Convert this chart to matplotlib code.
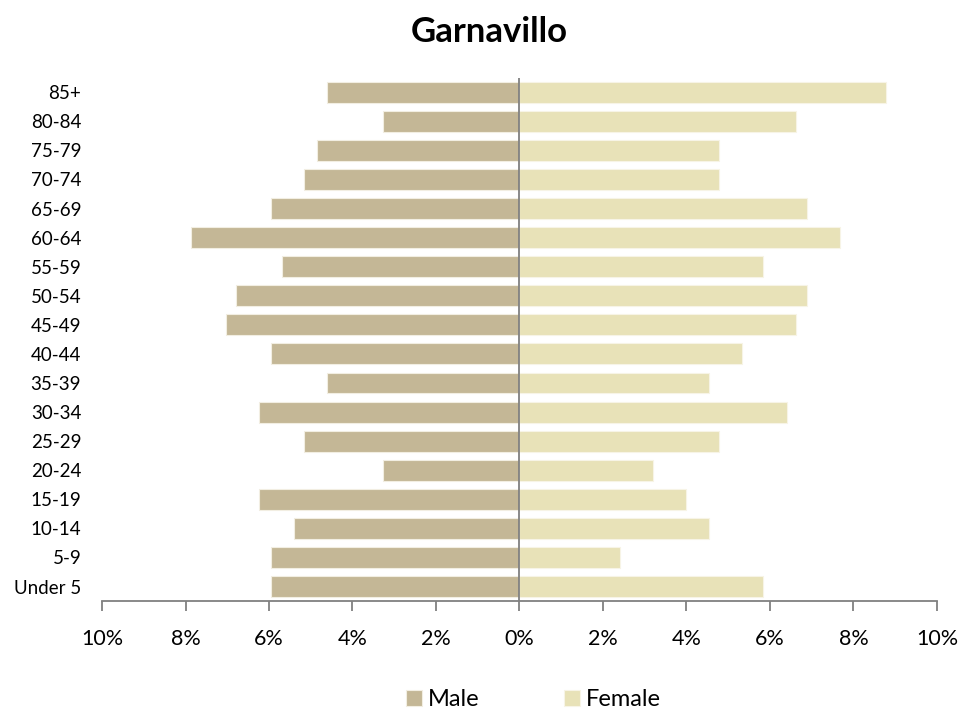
import matplotlib.pyplot as plt
from matplotlib.ticker import FuncFormatter

plt.rcParams['font.family'] = ['Lato', 'DejaVu Sans']

# age groups, bottom to top
ages = ['Under 5', '5-9', '10-14', '15-19', '20-24', '25-29', '30-34', '35-39', '40-44',
        '45-49', '50-54', '55-59', '60-64', '65-69', '70-74', '75-79', '80-84', '85+']
male = [5.96, 5.96, 5.41, 6.25, 3.26, 5.15, 6.25, 4.62, 5.96,
        7.04, 6.80, 5.68, 7.86, 5.96, 5.15, 4.86, 3.26, 4.62]
female = [5.84, 2.40, 4.53, 3.98, 3.19, 4.77, 6.40, 4.53, 5.32,
          6.63, 6.90, 5.84, 7.69, 6.90, 4.77, 4.77, 6.63, 8.77]

male_color = '#C4B796'
female_color = '#E8E2B8'

fig = plt.figure(figsize=(9.79, 7.13), dpi=100)
ax = fig.add_axes([0.1042, 0.157, 0.8528, 0.734])

y = range(len(ages))
ax.barh(y, [-m for m in male], height=0.72, color=male_color, edgecolor='#F2EEE2',
        linewidth=0.8, label='Male')
ax.barh(y, female, height=0.72, color=female_color, edgecolor='#F7F4E6',
        linewidth=0.8, label='Female')

ax.axvline(0, color='#808080', linewidth=1.3)

ax.set_xlim(-10, 10)
ax.set_ylim(-0.5, len(ages) - 0.5)
ax.set_xticks(range(-10, 11, 2))
ax.xaxis.set_major_formatter(FuncFormatter(lambda v, p: f'{abs(v):.0f}%'))
ax.set_yticks(list(y))
ax.set_yticklabels(ages, fontsize=13.5)

for s in ['top', 'right', 'left']:
    ax.spines[s].set_visible(False)
ax.spines['bottom'].set_color('#808080')
ax.spines['bottom'].set_linewidth(1.3)
ax.tick_params(axis='x', direction='out', length=7, width=1.3, color='#808080',
               labelsize=15.5, pad=13)
ax.tick_params(axis='y', length=0, pad=15)

fig.suptitle('Garnavillo', fontsize=25, fontweight='bold', y=0.978)

fig.legend(loc='lower center', bbox_to_anchor=(0.545, -0.026), ncol=2, frameon=False,
           fontsize=17, handlelength=0.65, handleheight=0.65, columnspacing=3.6,
           handletextpad=0.25)

fig.savefig('out.png', dpi=100)
